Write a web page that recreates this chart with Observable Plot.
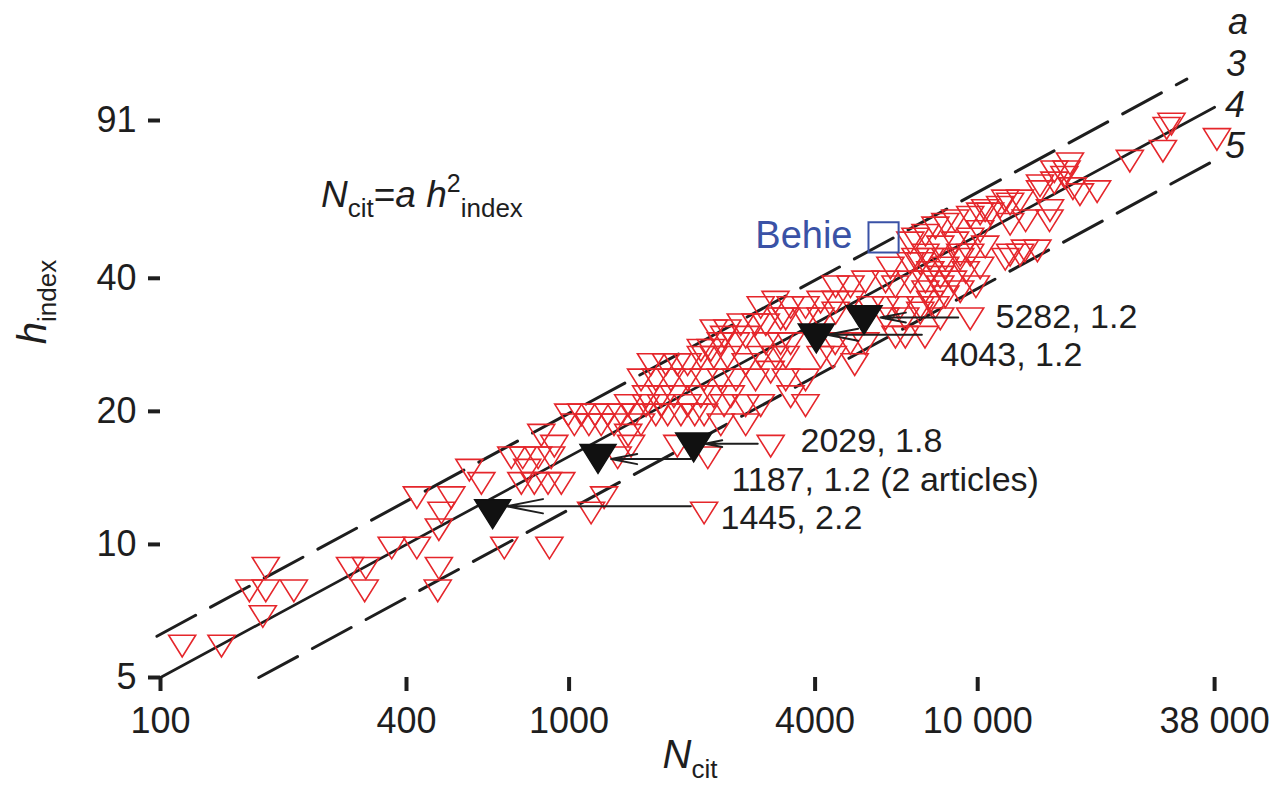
<!DOCTYPE html>
<html><head><meta charset="utf-8">
<script src="https://cdn.jsdelivr.net/npm/d3@7"></script>
<script src="https://cdn.jsdelivr.net/npm/@observablehq/plot@0.6"></script>
<style>body{margin:0;background:#fff}svg{display:block}</style>
</head><body>
<script>
// ---- data (N_cit, h_index) ----
const redN = [113,141,178,165,181,212,181,291,318,316,368,424,480,477,694,895,480,487,424,515,610,570,
722,770,840,904,790,764,822,888,957,855,920,995,1071,1157,1245,1340,1450,1030,1118,1198,1288,1395,1500,
1315,1418,1132,1218,1630,1743,1878,2030,1543,1678,1805,1950,2101,2260,2395,1586,1725,1840,1950,2101,2260,
2260,2395,2101,2222,2351,1500,1630,1775,1950,2140,2351,2560,2860,3114,3390,3790,1395,1543,1678,2487,2705,2944,
2140,2705,2351,1840,2185,2440,2705,2944,3200,3390,4420,5000,4125,2440,2631,2860,3030,3294,3390,3790,4125,4490,
5950,6650,7237,8098,2560,2705,3030,3294,3485,4480,4882,5310,6290,6650,7430,2944,3200,3485,3790,4125,4490,4882,
5463,5950,6467,7237,7880,4490,4882,5310,5950,6290,6841,7450,8098,6114,6841,7237,7655,8330,9062,9586,10430,
12003,12697,11680,7450,7040,8098,8800,9586,10140,6841,7040,7450,7880,8330,8810,9586,10140,10430,11347,11680,
12003,12697,10727,12003,13100,14990,15030,14208,15400,14208,16819,16500,16300,15400,17100,17792,19600,23568,
28400,29000,29800,38500,10140,9350,8700,8098,7450,9900,9062,8330,7655,9062,8330,7655,13050,14000,3485,3790,
9586,3114,2140];
const redH = [6,6,7,8,8,8,9,9,9,8,10,10,9,8,10,10,11,12,13,13,14,15,
16,16,16,16,15,14,14,14,14,18,17,20,20,20,20,20,20,19,19,19,19,18,19,
16,17,12,13,20,20,20,20,22,22,22,21,22,22,21,26,26,26,26,27,27,
31,30,28,28,29,24,24,24,24,24,24,24,24,25,24,24,21,21,21,22,21,21,
20,19,19,17,16,27,26,27,27,27,27,26,27,31,32,32,32,33,33,33,33,34,
33,33,34,33,29,30,29,29,29,29,29,29,30,30,30,35,36,35,35,36,36,36,
35,35,35,35,35,39,39,40,40,39,40,40,41,43,44,44,45,45,46,46,48,
46,46,45,46,45,48,49,50,52,49,50,51,53,54,55,56,57,58,59,61,
60,61,57,54,55,55,58,66,67,64,74,71,69,71,65,63,64,75,
79,89,91,84,43,42,40,39,38,39,38,37,36,45,43,42,47,47,22,21,
33,17,12];

const blackN = [650, 1177, 2018, 4027, 5270];
const blackH = [12, 16, 17, 30, 33];

// arrows: tail (near red marker) -> tip (at black marker)
const arrowFromN = [8960, 7300, 2895, 1986, 1986];
const arrowToN   = [5779, 4280, 2150, 1267, 702];
const arrowH     = [32.6, 29.8, 16.9, 15.6, 12.2];

const noteText = ["5282, 1.2", "4043, 1.2", "2029, 1.8", "1187, 1.2 (2 articles)", "1445, 2.2"];
const noteN    = [11056, 8110, 3684, 2497, 2347];
const noteH    = [32.6, 26.8, 17.15, 13.95, 11.45];

const behieN = 5883, behieH = 49.5;
const behieLabelN = 4938, behieLabelH = 50;

// reference lines N = a h^2 (endpoints)
const lineA3 = [[98, 6.2], [32500, 112.9]];
const lineA4 = [[100, 5], [38000, 97.5]];
const lineA5 = [[174, 5], [37760, 73.7]];

const xTicks = [100, 400, 1000, 4000, 10000, 38000];
const xTickLabels = ["100", "400", "1000", "4000", "10 000", "38 000"];
const yTicks = [5, 10, 20, 40, 91];
const yTickLabels = ["5", "10", "20", "40", "91"];

// ---- build tables ----
const red = redN.map((n, i) => ({N: n, h: redH[i]}));
const black = blackN.map((n, i) => ({N: n, h: blackH[i]}));
const arrows = arrowFromN.map((n, i) => ({x1: n, x2: arrowToN[i], h: arrowH[i]}));
const notes = noteText.map((t, i) => ({t, N: noteN[i], h: noteH[i]}));
const yTickData = yTicks.map((v, i) => ({v, t: yTickLabels[i]}));
const toPts = a => a.map(([N, h]) => ({N, h}));

const triDown = {
  draw(ctx, size) {
    const r = Math.sqrt(size / Math.PI);
    const H = 1.6 * r;
    ctx.moveTo(-r, -H / 3);
    ctx.lineTo(r, -H / 3);
    ctx.lineTo(0, 2 * H / 3);
    ctx.closePath();
  }
};

const RED = "#e5262b", INK = "#1e1e1e", BLUE = "#3a52a6";

const plot = Plot.plot({
  width: 1280, height: 787,
  marginLeft: 160, marginRight: 65.9, marginTop: 120, marginBottom: 110,
  style: {fontFamily: "'Liberation Sans', Arial, sans-serif", color: INK, background: "#fff"},
  x: {type: "log", domain: [100, 38000]},
  y: {type: "log", domain: [5, 91]},
  marks: [
    Plot.axisX({ticks: xTicks, tickFormat: d => xTickLabels[xTicks.indexOf(d)], tickSize: 14, tickPadding: 16,
      fontSize: 36, strokeWidth: 4, label: null}),
    Plot.axisY({ticks: yTicks, tickSize: 12, text: null, strokeWidth: 4, label: null}),
    Plot.text(yTickData, {frameAnchor: "left", y: "v", text: "t", textAnchor: "end", dx: -24, fontSize: 36, fill: INK}),
    Plot.line(toPts(lineA3), {x: "N", y: "h", stroke: INK, strokeWidth: 3, strokeDasharray: "44,17"}),
    Plot.line(toPts(lineA4), {x: "N", y: "h", stroke: INK, strokeWidth: 2.7}),
    Plot.line(toPts(lineA5), {x: "N", y: "h", stroke: INK, strokeWidth: 3, strokeDasharray: "44,17"}),
    Plot.dot(red, {x: "N", y: "h", symbol: triDown, r: 13.5, fill: "none", stroke: RED, strokeWidth: 1.6}),
    Plot.arrow(arrows, {x1: "x1", y1: "h", x2: "x2", y2: "h", stroke: INK, strokeWidth: 2, headAngle: 22, headLength: 28}),
    Plot.dot(black, {x: "N", y: "h", symbol: triDown, r: 18, fill: "#111", stroke: "#111"}),
    Plot.text(notes, {x: "N", y: "h", text: "t", textAnchor: "start", fontSize: 34, fill: INK}),
    Plot.dot([{N: behieN, h: behieH}], {x: "N", y: "h", symbol: "square", r: 17, fill: "none", stroke: BLUE, strokeWidth: 2}),
    Plot.text([{N: behieLabelN, h: behieLabelH, t: "Behie"}], {x: "N", y: "h", text: "t", textAnchor: "end", fontSize: 38, fill: BLUE})
  ]
});
document.body.appendChild(plot);

// rich text (sub/superscripts)
const svg = d3.select(plot);
const f = svg.append("text").attr("x", 321).attr("y", 207).attr("text-anchor", "start")
  .attr("font-size", 37).attr("fill", INK);
f.append("tspan").attr("font-style", "italic").text("N");
f.append("tspan").attr("font-size", 26).attr("dy", 10).text("cit");
f.append("tspan").attr("dy", -10).text("=");
f.append("tspan").attr("font-style", "italic").text("a h");
f.append("tspan").attr("font-size", 25).attr("dy", -15).text("2");
f.append("tspan").attr("font-size", 26).attr("dy", 25).text("index");

const yt = svg.append("text").attr("transform", "translate(46,302) rotate(-90)").attr("text-anchor", "middle")
  .attr("font-size", 40).attr("fill", INK);
yt.append("tspan").attr("font-style", "italic").text("h");
yt.append("tspan").attr("font-size", 26).attr("dy", 10).text("index");

const xt = svg.append("text").attr("x", 690).attr("y", 768).attr("text-anchor", "middle")
  .attr("font-size", 40).attr("fill", INK);
xt.append("tspan").attr("font-style", "italic").text("N");
xt.append("tspan").attr("font-size", 26).attr("dy", 10).text("cit");

const rightLabels = [["a", 1228, 34], ["3", 1226, 76], ["4", 1225, 117], ["5", 1225, 158]];
rightLabels.forEach(([t, x, y]) => svg.append("text").attr("x", x).attr("y", y).attr("text-anchor", "start")
  .attr("font-size", 36).attr("font-style", "italic").attr("fill", INK).text(t));
</script>
</body></html>
